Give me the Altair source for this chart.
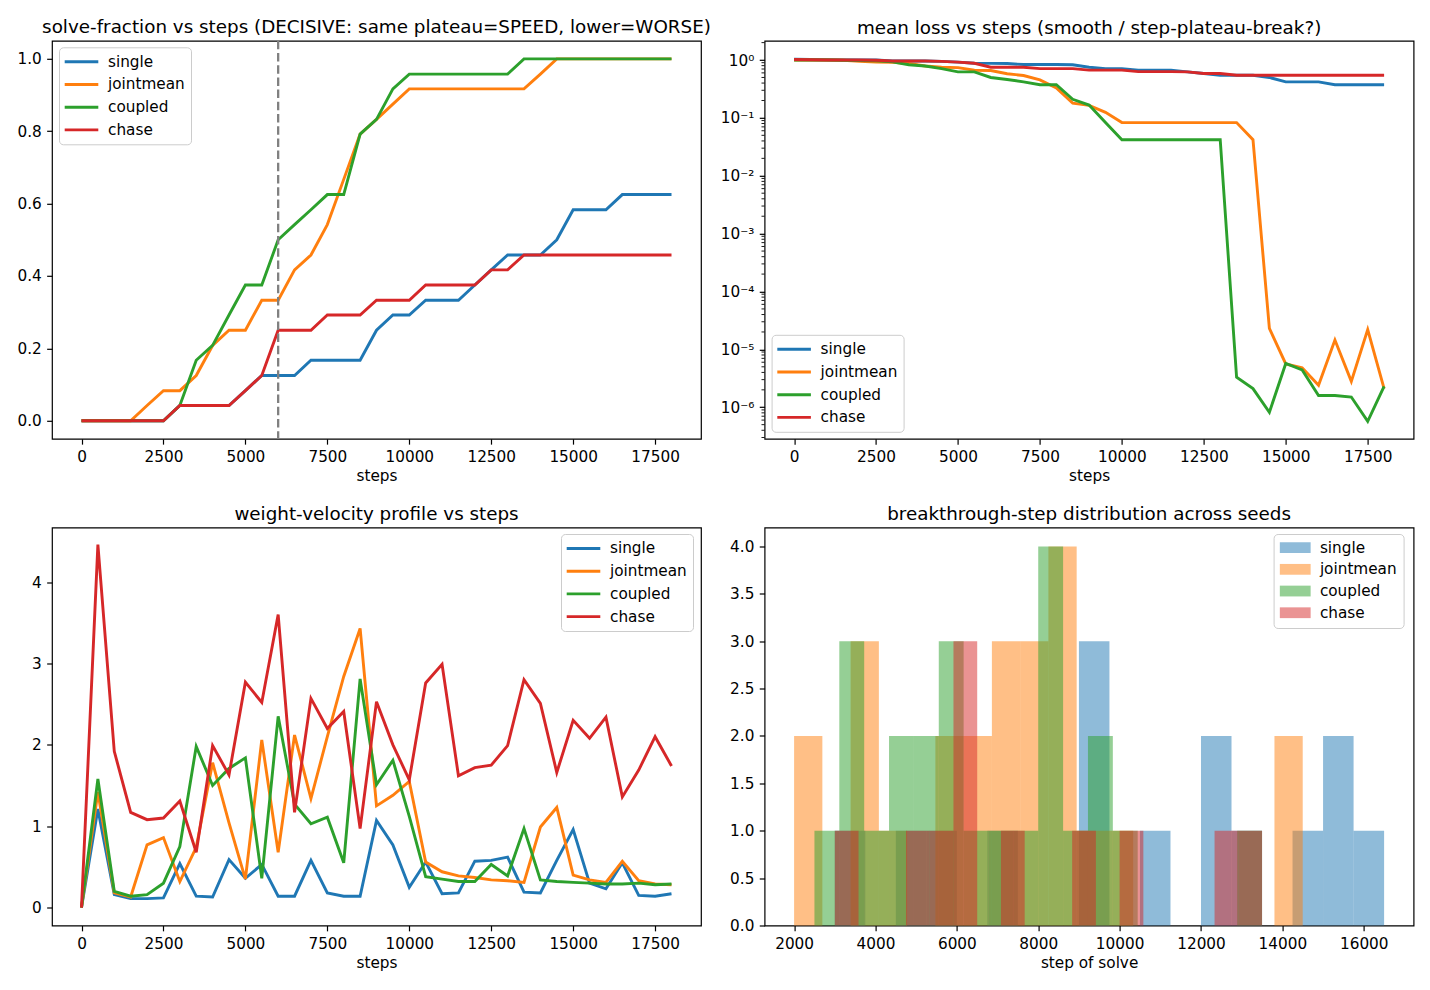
import altair as alt
import pandas as pd

FONT = "DejaVu Sans"
SERIES = ["single", "jointmean", "coupled", "chase"]
COLORS = ["#1f77b4", "#ff7f0e", "#2ca02c", "#d62728"]

steps = [0, 500, 1000, 1500, 2000, 2500, 3000, 3500, 4000, 4500, 5000, 5500,
         6000, 6500, 7000, 7500, 8000, 8500, 9000, 9500, 10000, 10500, 11000,
         11500, 12000, 12500, 13000, 13500, 14000, 14500, 15000, 15500, 16000,
         16500, 17000, 17500, 18000]

# ---- panel 1: solve fraction
solve_single = [0, 0, 0, 0, 0, 0, 0.042, 0.042, 0.042, 0.042, 0.083, 0.125,
                0.125, 0.125, 0.167, 0.167, 0.167, 0.167, 0.25, 0.292, 0.292,
                0.333, 0.333, 0.333, 0.375, 0.417, 0.458, 0.458, 0.458, 0.5,
                0.583, 0.583, 0.583, 0.625, 0.625, 0.625, 0.625]
solve_jointmean = [0, 0, 0, 0, 0.042, 0.083, 0.083, 0.125, 0.208, 0.25, 0.25,
                   0.333, 0.333, 0.417, 0.458, 0.542, 0.667, 0.792, 0.833,
                   0.875, 0.917, 0.917, 0.917, 0.917, 0.917, 0.917, 0.917,
                   0.917, 0.958, 1.0, 1.0, 1.0, 1.0, 1.0, 1.0, 1.0, 1.0]
solve_coupled = [0, 0, 0, 0, 0, 0, 0.042, 0.167, 0.208, 0.292, 0.375, 0.375,
                 0.5, 0.542, 0.583, 0.625, 0.625, 0.792, 0.833, 0.917, 0.958,
                 0.958, 0.958, 0.958, 0.958, 0.958, 0.958, 1.0, 1.0, 1.0, 1.0,
                 1.0, 1.0, 1.0, 1.0, 1.0, 1.0]
solve_chase = [0, 0, 0, 0, 0, 0, 0.042, 0.042, 0.042, 0.042, 0.083, 0.125,
               0.25, 0.25, 0.25, 0.292, 0.292, 0.292, 0.333, 0.333, 0.333,
               0.375, 0.375, 0.375, 0.375, 0.417, 0.417, 0.458, 0.458, 0.458,
               0.458, 0.458, 0.458, 0.458, 0.458, 0.458, 0.458]
plateau_step = [6000]

# ---- panel 2: mean loss (log)
loss_single = [1.03, 1.02, 1.01, 1.0, 1.0, 1.0, 0.96, 0.96, 0.96, 0.95, 0.92,
               0.88, 0.875, 0.87, 0.835, 0.835, 0.835, 0.83, 0.75, 0.71, 0.71,
               0.67, 0.67, 0.67, 0.625, 0.585, 0.545, 0.545, 0.545, 0.5, 0.42,
               0.42, 0.42, 0.375, 0.375, 0.375, 0.375]
loss_jointmean = [1.0, 1.0, 1.0, 0.99, 0.95, 0.92, 0.91, 0.87, 0.79, 0.75,
                  0.74, 0.665, 0.66, 0.58, 0.54, 0.455, 0.33, 0.18, 0.165,
                  0.125, 0.083, 0.083, 0.083, 0.083, 0.083, 0.083, 0.083,
                  0.083, 0.042, 2.3e-5, 5.6e-6, 4.8e-6, 2.4e-6, 1.45e-5,
                  2.8e-6, 2.2e-5, 2.1e-6]
loss_coupled = [1.0, 1.0, 1.0, 0.99, 0.98, 0.97, 0.93, 0.83, 0.79, 0.71, 0.625,
                0.625, 0.5, 0.46, 0.42, 0.375, 0.375, 0.21, 0.167, 0.083,
                0.042, 0.042, 0.042, 0.042, 0.042, 0.042, 0.042, 3.3e-6,
                2.1e-6, 8.2e-7, 5.7e-6, 4.4e-6, 1.6e-6, 1.6e-6, 1.5e-6,
                5.7e-7, 2.3e-6]
loss_chase = [1.02, 1.01, 1.0, 1.0, 1.0, 0.99, 0.96, 0.96, 0.96, 0.95, 0.92,
              0.88, 0.75, 0.75, 0.75, 0.71, 0.71, 0.71, 0.67, 0.67, 0.67,
              0.63, 0.63, 0.63, 0.625, 0.585, 0.585, 0.545, 0.545, 0.545,
              0.545, 0.545, 0.545, 0.545, 0.545, 0.545, 0.545]
log_major = [1e-6, 1e-5, 1e-4, 1e-3, 1e-2, 1e-1, 1e0]
minor_mantissas = [2, 3, 4, 5, 6, 7, 8, 9]
minor_exponents = [-7, -6, -5, -4, -3, -2, -1, 0]

# ---- panel 3: weight velocity
vel_single = [0, 1.21, 0.16, 0.11, 0.11, 0.12, 0.54, 0.14, 0.13, 0.59, 0.36,
              0.53, 0.14, 0.14, 0.58, 0.18, 0.14, 0.14, 1.07, 0.77, 0.25, 0.56,
              0.17, 0.18, 0.57, 0.58, 0.62, 0.19, 0.18, 0.58, 0.96, 0.30, 0.23,
              0.55, 0.15, 0.14, 0.17]
vel_jointmean = [0, 1.42, 0.18, 0.13, 0.77, 0.86, 0.32, 0.74, 1.78, 1.04, 0.35,
                 2.06, 0.68, 2.12, 1.34, 2.1, 2.84, 3.43, 1.25, 1.38, 1.55,
                 0.56, 0.44, 0.39, 0.37, 0.34, 0.33, 0.31, 0.99, 1.23, 0.40,
                 0.34, 0.31, 0.57, 0.33, 0.29, 0.28]
vel_coupled = [0, 1.58, 0.20, 0.14, 0.16, 0.30, 0.75, 1.98, 1.50, 1.71, 1.84,
               0.36, 2.35, 1.27, 1.03, 1.11, 0.55, 2.81, 1.51, 1.81, 1.12, 0.38,
               0.35, 0.32, 0.32, 0.53, 0.39, 0.97, 0.34, 0.32, 0.31, 0.30, 0.29,
               0.29, 0.30, 0.28, 0.29]
vel_chase = [0, 4.46, 1.92, 1.17, 1.08, 1.10, 1.31, 0.68, 1.99, 1.63, 2.77,
             2.52, 3.60, 1.17, 2.57, 2.20, 2.41, 0.97, 2.53, 2.00, 1.57, 2.76,
             2.99, 1.62, 1.72, 1.75, 1.99, 2.80, 2.51, 1.66, 2.30, 2.08, 2.34,
             1.36, 1.69, 2.10, 1.74]

# ---- panel 4: histogram of solve steps (18 bins over each series' range)
N_BINS = 18
hist_single_range = [3000, 16500]
hist_single_counts = [1, 0, 1, 1, 0, 1, 0, 0, 3, 0, 1, 0, 2, 1, 0, 1, 2, 1]
hist_jointmean_range = [2000, 14500]
hist_jointmean_counts = [2, 0, 3, 1, 0, 2, 2, 3, 3, 4, 1, 1, 0, 0, 0, 0, 0, 2]
hist_coupled_range = [2500, 13500]
hist_coupled_counts = [1, 3, 1, 2, 2, 3, 1, 1, 1, 4, 1, 2, 1, 0, 0, 0, 0, 1]
hist_chase_range = [3000, 13500]
hist_chase_counts = [1, 0, 0, 1, 1, 3, 0, 1, 0, 0, 1, 0, 1, 0, 0, 0, 1, 1]

step_ticks = [0, 2500, 5000, 7500, 10000, 12500, 15000, 17500]
hist_ticks = [2000, 4000, 6000, 8000, 10000, 12000, 14000, 16000]

W, H = 649, 398
FS = 15.28      # 10pt at 110 dpi
TFS = 18.33     # 12pt at 110 dpi
LW = 2.9


def long_df(cols):
    rows = []
    for k, (name, vals) in enumerate(zip(SERIES, cols)):
        for s, v in zip(steps, vals):
            rows.append({"step": s, "value": v, "series": name, "k": k})
    return pd.DataFrame(rows)


df_solve = long_df([solve_single, solve_jointmean, solve_coupled, solve_chase])
df_loss = long_df([loss_single, loss_jointmean, loss_coupled, loss_chase])
df_vel = long_df([vel_single, vel_jointmean, vel_coupled, vel_chase])

minor_vals = [m * 10.0 ** e for e in minor_exponents for m in minor_mantissas]
minor_vals = [v for v in minor_vals if 2.85e-7 <= v <= 2.15]
df_minor = pd.DataFrame({"value": minor_vals})

hist_rows = []
for k, (name, rng, cnts) in enumerate(zip(
        SERIES,
        [hist_single_range, hist_jointmean_range, hist_coupled_range, hist_chase_range],
        [hist_single_counts, hist_jointmean_counts, hist_coupled_counts, hist_chase_counts])):
    w = (rng[1] - rng[0]) / N_BINS
    for i, c in enumerate(cnts):
        if c > 0:
            hist_rows.append({"series": name, "k": k, "x0": rng[0] + i * w,
                              "x1": rng[0] + (i + 1) * w, "count": c})
df_hist = pd.DataFrame(hist_rows)

color_scale = alt.Scale(domain=SERIES, range=COLORS)


def legend(x, y, kind="line"):
    common = dict(title=None, orient="none", legendX=x, legendY=y,
                  direction="vertical",
                  fillColor="rgba(255,255,255,0.8)", strokeColor="#cccccc",
                  cornerRadius=4, padding=6, rowPadding=5.7,
                  labelFontSize=FS, labelFont=FONT, labelColor="black",
                  labelLimit=300, symbolSize=196, symbolOffset=8)
    if kind == "line":
        return alt.Legend(symbolType="M-2.4,0H2.4", symbolStrokeWidth=LW,
                          symbolFillColor="transparent", labelOffset=18,
                          **common)
    return alt.Legend(symbolType="M-2.2,-0.77H2.2V0.77H-2.2Z",
                      symbolOpacity=0.5, symbolStrokeWidth=0,
                      labelOffset=17, **common)


x_steps_scale = alt.Scale(domain=[-900, 18900], nice=False, zero=False)
x_steps_axis = alt.Axis(values=step_ticks, format="d", title="steps",
                        labelFlush=False, labelOverlap=False)

# panel 1
y1_scale = alt.Scale(domain=[-0.05, 1.05], nice=False, zero=False)
y1_axis = alt.Axis(values=[0, 0.2, 0.4, 0.6, 0.8, 1.0], format=".1f", title=None)
p1_lines = alt.Chart(df_solve).mark_line(strokeWidth=LW).encode(
    x=alt.X("step:Q", scale=x_steps_scale, axis=x_steps_axis),
    y=alt.Y("value:Q", scale=y1_scale, axis=y1_axis),
    color=alt.Color("series:N", scale=color_scale, legend=legend(7, 6.5)),
    order="k:Q",
)
p1_rule = alt.Chart(pd.DataFrame({"step": plateau_step})).mark_rule(
    color="gray", strokeWidth=2.3, strokeDash=[8.5, 3.7]
).encode(x=alt.X("step:Q", scale=x_steps_scale, axis=x_steps_axis))
p1 = alt.layer(p1_lines, p1_rule).properties(
    width=W, height=H,
    title="solve-fraction vs steps (DECISIVE: same plateau=SPEED, lower=WORSE)")

# panel 2
y2_scale = alt.Scale(type="log", domain=[2.85e-7, 2.15], nice=False)
sup = "['\u2070','\u207b\u00b9','\u207b\u00b2','\u207b\u00b3','\u207b\u2074','\u207b\u2075','\u207b\u2076']"
y2_axis = alt.Axis(values=log_major, title=None,
                   labelExpr="'10' + " + sup + "[round(-log(datum.value)/LN10)]")
p2_lines = alt.Chart(df_loss).mark_line(strokeWidth=LW).encode(
    x=alt.X("step:Q", scale=x_steps_scale, axis=x_steps_axis),
    y=alt.Y("value:Q", scale=y2_scale, axis=y2_axis),
    color=alt.Color("series:N", scale=color_scale, legend=legend(7, 294)),
    order="k:Q",
)
p2_minor = alt.Chart(df_minor).mark_rule(color="black", strokeWidth=0.9).encode(
    y=alt.Y("value:Q", scale=y2_scale, axis=y2_axis),
    x=alt.value(0), x2=alt.value(-3.1),
)
p2 = alt.layer(p2_lines, p2_minor).properties(
    width=W, height=H, title="mean loss vs steps (smooth / step-plateau-break?)")

# panel 3
y3_scale = alt.Scale(domain=[-0.22, 4.67], nice=False, zero=False)
y3_axis = alt.Axis(values=[0, 1, 2, 3, 4], format="d", title=None)
p3 = alt.Chart(df_vel).mark_line(strokeWidth=LW).encode(
    x=alt.X("step:Q", scale=x_steps_scale, axis=x_steps_axis),
    y=alt.Y("value:Q", scale=y3_scale, axis=y3_axis),
    color=alt.Color("series:N", scale=color_scale, legend=legend(509, 6.5)),
    order="k:Q",
).properties(width=W, height=H, title="weight-velocity profile vs steps")

# panel 4
x4_scale = alt.Scale(domain=[1275, 17225], nice=False, zero=False)
x4_axis = alt.Axis(values=hist_ticks, format="d", title="step of solve",
                   labelFlush=False, labelOverlap=False)
y4_scale = alt.Scale(domain=[0, 4.2], nice=False)
y4_axis = alt.Axis(values=[0, 0.5, 1, 1.5, 2, 2.5, 3, 3.5, 4], format=".1f", title=None)
hist_layers = []
for name in SERIES:
    hist_layers.append(
        alt.Chart(df_hist).transform_filter(alt.datum.series == name)
        .mark_rect(opacity=0.5, strokeWidth=0).encode(
            x=alt.X("x0:Q", scale=x4_scale, axis=x4_axis),
            x2="x1:Q",
            y=alt.Y("count:Q", scale=y4_scale, axis=y4_axis),
            y2=alt.datum(0),
            color=alt.Color("series:N", scale=color_scale,
                            legend=legend(509, 6.5, kind="patch")),
        )
    )
p4 = alt.layer(*hist_layers).properties(
    width=W, height=H, title="breakthrough-step distribution across seeds")

chart = alt.concat(
    p1, p2, p3, p4, columns=2,
    spacing={"column": 63.6, "row": 88.7}, bounds="flush"
).resolve_scale(color="independent").properties(
    padding={"left": 16, "top": 16.8, "right": 5, "bottom": 5}
).configure(font=FONT).configure_view(
    stroke="black", strokeWidth=1.2
).configure_axis(
    domain=False, grid=False, ticks=True, tickColor="black", tickWidth=1.2,
    tickSize=5.35, labelFontSize=FS, labelColor="black", labelPadding=5.35,
    labelFont=FONT, titleFont=FONT, titleFontSize=FS,
    titleFontWeight="normal", titleColor="black", titlePadding=4,
).configure_title(
    fontSize=TFS, fontWeight="normal", color="black", font=FONT,
    anchor="middle", frame="group", offset=2.7, baseline="alphabetic", limit=1000
)

chart.save("out.html", embed_options={"renderer": "svg", "actions": False})
